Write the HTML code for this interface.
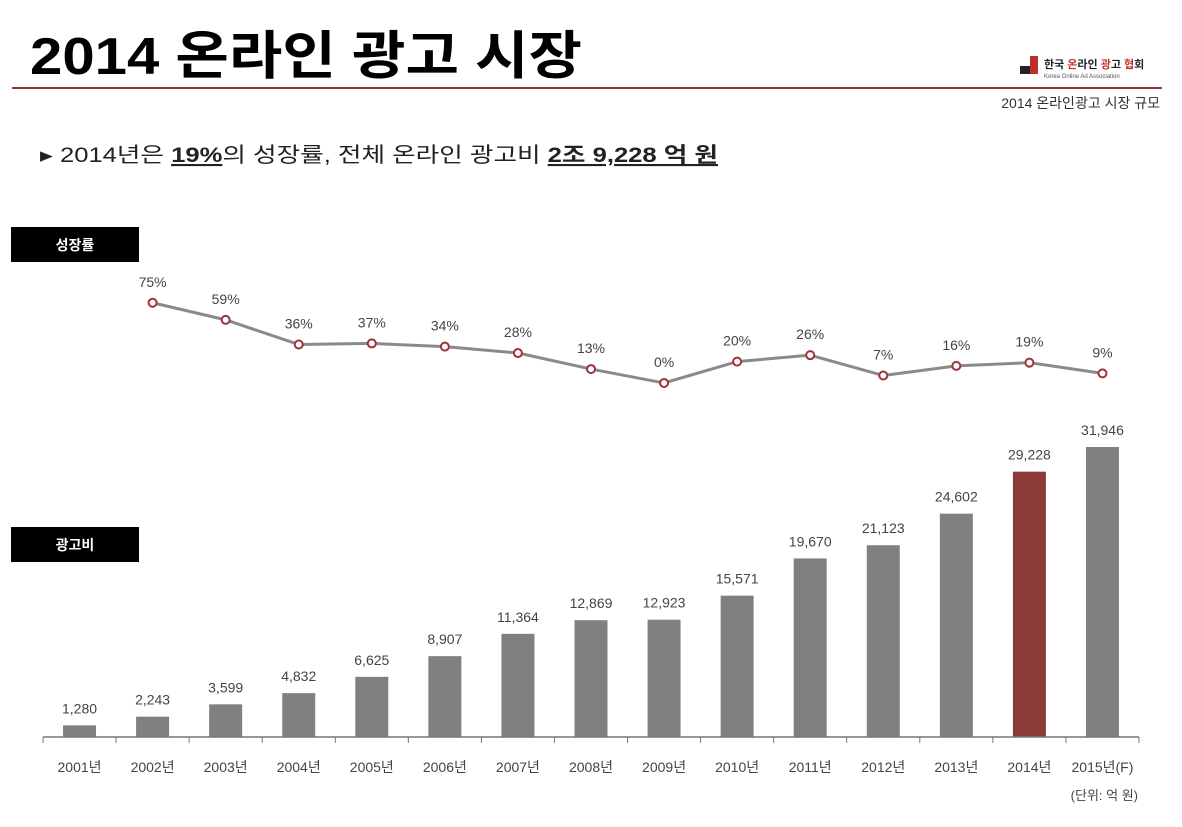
<!DOCTYPE html>
<html><head><meta charset="utf-8"><style>
body{margin:0;background:#fff;width:1182px;height:822px;overflow:hidden;font-family:"Liberation Sans","Noto Sans CJK KR",sans-serif}
</style></head><body>
<svg id="chart" width="1182" height="822" xmlns="http://www.w3.org/2000/svg" font-family="'Liberation Sans','Noto Sans CJK KR',sans-serif">
<text x="30" y="74" font-size="52" font-weight="bold" fill="#000" textLength="552" lengthAdjust="spacingAndGlyphs">2014 온라인 광고 시장</text>
<line x1="12" y1="88" x2="1162" y2="88" stroke="#8b3a3a" stroke-width="2"/>
<g>
<rect x="1020" y="66" width="14" height="8" fill="#222"/><rect x="1030" y="56" width="8" height="18" fill="#c0302a"/>
<text x="1044" y="68" font-size="11" font-weight="bold" fill="#222">한국 <tspan fill="#c0302a">온</tspan>라인 <tspan fill="#c0302a">광</tspan>고 <tspan fill="#c0302a">협</tspan>회</text>
<text x="1044" y="78" font-size="6" fill="#555">Korea Online Ad Association</text>
</g>
<text x="1160" y="108" font-size="14" fill="#333" text-anchor="end">2014 온라인광고 시장 규모</text>
<text x="40" y="162" font-size="21" fill="#222" textLength="678" lengthAdjust="spacingAndGlyphs">▸ 2014년은 <tspan font-weight="bold" text-decoration="underline">19%</tspan>의 성장률, 전체 온라인 광고비 <tspan font-weight="bold" text-decoration="underline">2조 9,228 억 원</tspan></text>
<g><rect x="11" y="227" width="128" height="35" fill="#000"/><text x="75" y="250" font-size="14" font-weight="bold" fill="#fff" text-anchor="middle">성장률</text></g>
<g><rect x="11" y="527" width="128" height="35" fill="#000"/><text x="75" y="550" font-size="14" font-weight="bold" fill="#fff" text-anchor="middle">광고비</text></g>
<g id="bars"></g><g id="line"></g><g id="axis"></g>
<text x="1138" y="800" font-size="13" fill="#444" text-anchor="end">(단위: 억 원)</text>
</svg>
<script>
const categories=["2001년","2002년","2003년","2004년","2005년","2006년","2007년","2008년","2009년","2010년","2011년","2012년","2013년","2014년","2015년(F)"];
const spend=[1280,2243,3599,4832,6625,8907,11364,12869,12923,15571,19670,21123,24602,29228,31946];
const spendLabels=["1,280","2,243","3,599","4,832","6,625","8,907","11,364","12,869","12,923","15,571","19,670","21,123","24,602","29,228","31,946"];
const growth=[null,75,59,36,37,34,28,13,0,20,26,7,16,19,9];
const NS="http://www.w3.org/2000/svg";
const x0=43,x1=1139,base=737,bw=33;
const step=(x1-x0)/categories.length;
const xs=i=>x0+step*(i+0.5);
const yb=v=>base-v*(290/31946);
const yg=v=>383-v*1.07;
function mk(t,a,p){const e=document.createElementNS(NS,t);for(const k in a)e.setAttribute(k,a[k]);p.appendChild(e);return e;}
const bars=document.getElementById('bars'),line=document.getElementById('line'),axis=document.getElementById('axis');
spend.forEach((v,i)=>{
 const r=mk('rect',{x:xs(i)-bw/2,y:yb(v),width:bw,height:base-yb(v),fill:i===13?'#8b3a36':'#808080'},bars);
 
 
 const t=mk('text',{x:xs(i),y:yb(v)-12,'font-size':14,fill:'#444','text-anchor':'middle'},bars);t.textContent=spendLabels[i];
 
 
 const c=mk('text',{x:xs(i),y:772,'font-size':14,fill:'#444','text-anchor':'middle'},axis);c.textContent=categories[i];
 
 
});
const al=mk('line',{x1:x0,y1:base,x2:x1,y2:base,stroke:'#777','stroke-width':1.5},axis);


for(let i=0;i<=categories.length;i++){const tk=mk('line',{x1:x0+step*i,y1:base,x2:x0+step*i,y2:base+6,stroke:'#777'},axis);
 
 }
let pts=[];growth.forEach((v,i)=>{if(v!==null)pts.push([xs(i),yg(v),v]);});
const pl=mk('polyline',{points:pts.map(p=>p[0]+','+p[1]).join(' '),fill:'none',stroke:'#8a8a8a','stroke-width':3},line);


pts.forEach(p=>{
 const m=mk('circle',{cx:p[0],cy:p[1],r:4,fill:'#fff',stroke:'#a0303a','stroke-width':2},line);
 
 
 const t=mk('text',{x:p[0],y:p[1]-16,'font-size':14,fill:'#444','text-anchor':'middle'},line);t.textContent=p[2]+'%';
 
 
});
</script>
</body></html>
